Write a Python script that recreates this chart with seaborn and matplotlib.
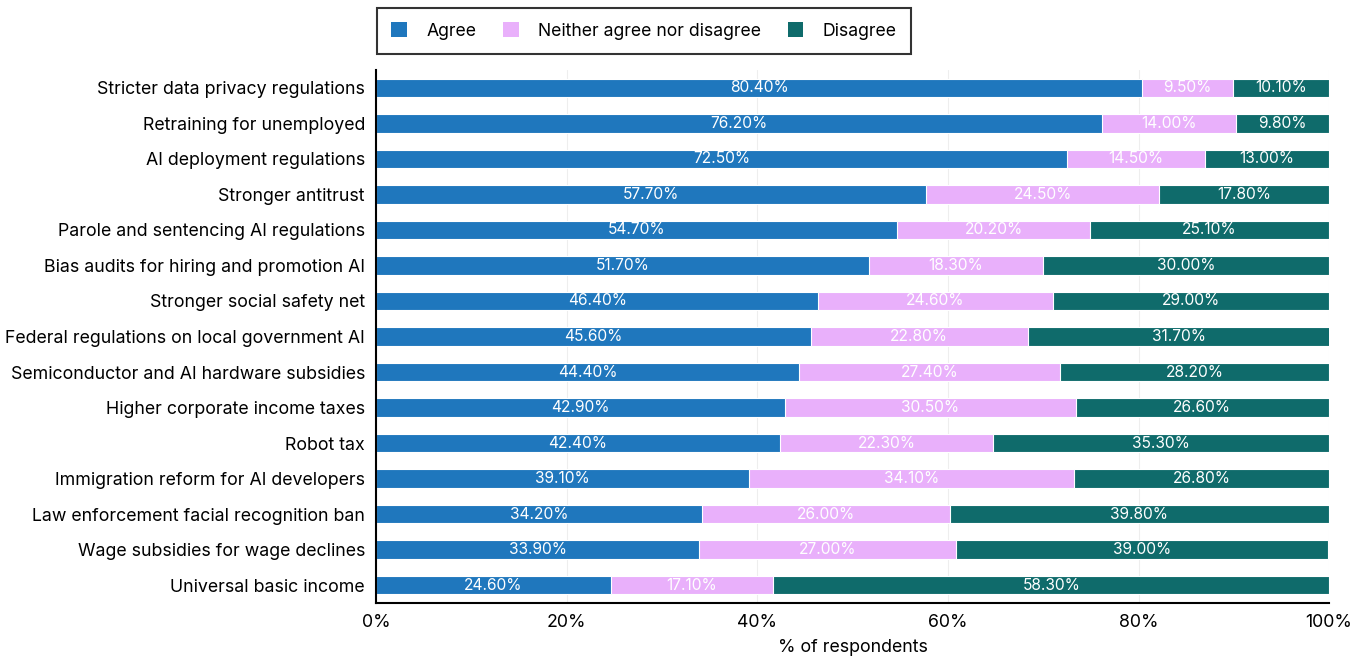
import matplotlib
matplotlib.use("Agg")
import matplotlib.pyplot as plt
import seaborn as sns
import pandas as pd
import numpy as np
from matplotlib.patches import Patch

categories = [
    "Stricter data privacy regulations",
    "Retraining for unemployed",
    "AI deployment regulations",
    "Stronger antitrust",
    "Parole and sentencing AI regulations",
    "Bias audits for hiring and promotion AI",
    "Stronger social safety net",
    "Federal regulations on local government AI",
    "Semiconductor and AI hardware subsidies",
    "Higher corporate income taxes",
    "Robot tax",
    "Immigration reform for AI developers",
    "Law enforcement facial recognition ban",
    "Wage subsidies for wage declines",
    "Universal basic income",
]
agree = [80.4, 76.2, 72.5, 57.7, 54.7, 51.7, 46.4, 45.6, 44.4, 42.9, 42.4, 39.1, 34.2, 33.9, 24.6]
neither = [9.5, 14.0, 14.5, 24.5, 20.2, 18.3, 24.6, 22.8, 27.4, 30.5, 22.3, 34.1, 26.0, 27.0, 17.1]
disagree = [10.1, 9.8, 13.0, 17.8, 25.1, 30.0, 29.0, 31.7, 28.2, 26.6, 35.3, 26.8, 39.8, 39.0, 58.3]
series_names = ["Agree", "Neither agree nor disagree", "Disagree"]
colors = ["#1f77bd", "#e9b0fb", "#0f6b6b"]
x_ticks = [0, 20, 40, 60, 80, 100]

sns.set_style("white")
plt.rcParams["font.family"] = ["Inter", "DejaVu Sans"]
plt.rcParams["text.color"] = "black"
plt.rcParams["axes.labelcolor"] = "black"
plt.rcParams["xtick.color"] = "black"
plt.rcParams["ytick.color"] = "black"

df = pd.DataFrame({"category": categories, "agree": agree,
                   "neither": neither, "disagree": disagree})
df["c1"] = df["agree"]
df["c2"] = df["agree"] + df["neither"]
df["c3"] = df["c2"] + df["disagree"]

fig = plt.figure(figsize=(13.66, 6.58), dpi=100)
ax = fig.add_axes([0.2753, 0.0836, 0.6977, 0.81])

for col, color in zip(["c3", "c2", "c1"], colors[::-1]):
    sns.barplot(data=df, x=col, y="category", orient="h", color=color,
                width=0.52, edgecolor="white", linewidth=0.8, ax=ax,
                saturation=1, zorder=2)

# labels centred in each segment
vals = [df["agree"], df["neither"], df["disagree"]]
starts = [np.zeros(len(df)), df["c1"].values, df["c2"].values]
for v, s in zip(vals, starts):
    for i, (vv, ss) in enumerate(zip(v.values, s)):
        ax.text(ss + vv / 2, i, f"{vv:.2f}%", ha="center", va="center",
                color="white", fontsize=11.2, zorder=3)

ax.set_xlim(0, 100)
ax.set_ylim(14.5, -0.5)
ax.set_xticks(x_ticks)
ax.set_xticklabels([f"{t}%" for t in x_ticks], fontsize=12.8)
ax.tick_params(axis="y", labelsize=12.8, length=0, pad=8, colors="black")
ax.tick_params(axis="x", length=0, pad=8, colors="black")
ax.set_xlabel("% of respondents", fontsize=12.8, labelpad=6, color="black")
ax.set_ylabel("")
ax.grid(axis="x", color="#eeeeee", linewidth=0.8, zorder=0)
ax.set_axisbelow(True)
for sp in ["top", "right"]:
    ax.spines[sp].set_visible(False)
for sp in ["left", "bottom"]:
    ax.spines[sp].set_color("black")
    ax.spines[sp].set_linewidth(1.5)

handles = [Patch(facecolor=c, edgecolor="none") for c in colors]
leg = fig.legend(handles, series_names, loc="upper left",
                 bbox_to_anchor=(377 / 1366, 1 - 8 / 658), ncol=3,
                 frameon=True, fancybox=False, fontsize=12.7,
                 handlelength=0.9, handleheight=0.9, columnspacing=1.5,
                 handletextpad=1.1, borderpad=0.8, borderaxespad=0)
leg.get_frame().set_edgecolor("black")
leg.get_frame().set_linewidth(1.5)
for t in leg.get_texts():
    t.set_color("black")

fig.savefig("out.png", dpi=100)
